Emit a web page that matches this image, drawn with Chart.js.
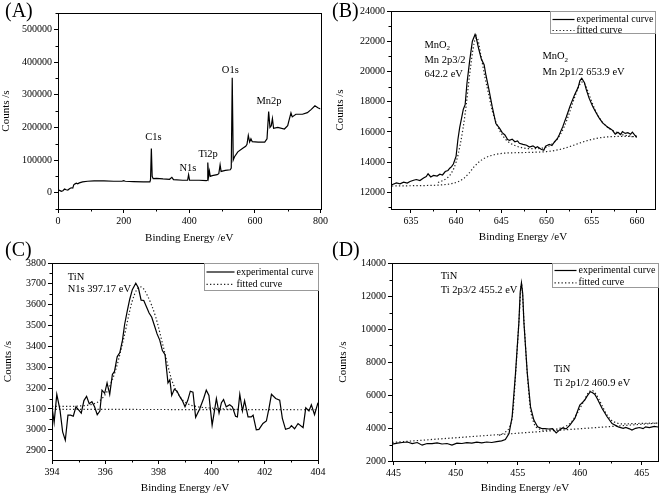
<!DOCTYPE html>
<html>
<head>
<meta charset="utf-8">
<script src="https://cdn.jsdelivr.net/npm/chart.js@4.4.1/dist/chart.umd.min.js"></script>
<style>
body { margin: 0; background: #fff; }
#wrap { position: relative; width: 661px; height: 497px; overflow: hidden; }
canvas { position: absolute; }
</style>
</head>
<body>
<div id="wrap">
  <canvas id="survey" width="330" height="250" style="left:0;top:0"></canvas>
  <canvas id="mn2p" width="331" height="250" style="left:330px;top:0"></canvas>
  <canvas id="n1s" width="330" height="267" style="left:0;top:230px"></canvas>
  <canvas id="ti2p" width="331" height="267" style="left:330px;top:230px"></canvas>
</div>
<script>
// (A) SURVEY SPECTRUM
let surveyEnergy = [0,5,10,15,20,25,30,35,40,45, 48,52,56,60,65,75,90,110,140,170,
    195,200,205,230,260,280,282,284.5,287,290, 300,320,340,347,352,380,395,398,401,430,
    452,455,456.5,459,461.5,464,470,485,490,494, 497,510,525,528,531,534,538,548,563,572,
    576,580,584,588,592,610,630,637,642,646, 650,653.5,657,670,690,700,705,710,714,725,
    745,760,772,783,792,800];
let surveyCounts = [8000,7000,4000,6000,11000,9000,8000,12000,15000,14000,
    24000,27000,29000,27000,30000,33000,35000,36000,36000,35000,
    35000,37000,35000,34000,33000,33000,40000,135000,50000,43000,
    44000,42000,41000,47000,40000,38000,38000,55000,38000,38000,
    37000,38000,92000,50000,66000,50000,52000,55000,58000,85000,
    65000,68000,70000,75000,352000,100000,110000,125000,136000,142000,
    148000,175000,155000,165000,156000,155000,155000,165000,248000,200000,
    205000,227000,197000,200000,195000,205000,225000,244000,232000,240000,
    240000,245000,255000,266000,260000,256000];
let surveyPeaks = ['C1s', 'N1s', 'Ti2p', 'O1s', 'Mn2p'];
let surveyPeakAt = [[291,170000], [396,75500], [457.5,118000], [525,375000], [643,279000]];

// (B) Mn 2p
let mnEnergy = [632.9,633.4,633.8,634.2,634.6,634.9,635.3,635.6,636.0,636.4,
    636.7,636.9,637.2,637.5,637.9,638.2,638.5,638.8,639.1,639.3,
    639.5,639.7,640.0,640.2,640.4,640.6,640.8,641.0,641.2,641.5,
    641.8,642.1,642.2,642.5,642.8,643.1,643.3,643.6,644.0,644.4,
    644.8,645.1,645.4,645.7,645.9,646.2,646.5,646.8,647.0,647.4,
    647.8,648.1,648.5,648.8,649.0,649.4,649.7,649.9,650.3,650.6,
    650.9,651.2,651.4,651.8,652.2,652.6,653.1,653.5,653.7,653.9,
    654.2,654.4,654.7,655.1,655.5,655.8,656.2,656.5,656.8,657.1,
    657.3,657.6,657.9,658.2,658.4,658.7,659.0,659.3,659.5,659.8,660.0];
let mnCounts = [12500,12620,12560,12680,12620,12720,12800,12850,12780,12950,
    13050,13230,13020,13120,13080,13200,13150,13380,13450,13600,
    13700,13880,14400,15500,16300,16900,17500,17800,19200,20700,
    22000,22450,22300,21500,20800,20450,19750,18900,17650,16550,
    16250,15950,15800,15500,15450,15520,15350,15400,15250,15180,
    15120,15000,15080,14950,15020,14850,14780,15050,15180,15100,
    15350,15550,15800,16350,17000,17700,18450,18950,19400,19550,
    19250,18800,18250,17700,17250,16950,16600,16450,16300,16200,
    16100,15850,15980,15830,16020,15900,15950,15850,15980,15760,15700];
let mnFitEnergy = [638.0,639.0,639.5,640.0,640.5,641.0,641.5,642.0,642.3,642.7,
    643.2,643.6,644.0,644.5,645.0,645.5,646.0,647.0,648.0,649.0,
    650.0,650.5,651.0,651.5,652.0,652.5,653.0,653.5,653.9,654.2,
    654.5,655.0,655.5,656.0,656.5,657.0,657.5,658.0,658.5,659.0,660.0];
let mnFitCounts = [12650,12950,13300,14000,15300,17200,19800,21900,22250,21200,
    19600,18500,17400,16500,15900,15500,15250,15000,14900,14900,
    15000,15150,15400,15800,16400,17200,18100,18900,19300,19200,
    18800,18000,17300,16800,16450,16200,16050,15900,15800,15750,15650];
let mnBgEnergy = [632.9,635,637,638.5,639.5,640.2,640.8,641.4,642.0,642.6,
    643.2,643.8,644.5,645.5,647,648.5,650,651,652,653,
    654,655,656,657,658,659,660];
let mnBgCounts = [12420,12440,12460,12500,12580,12700,12900,13250,13700,14050,
    14280,14420,14530,14600,14630,14650,14700,14780,14920,15120,
    15330,15500,15620,15680,15700,15700,15680];

// (C) N 1s
let nEnergy = [394.0,394.08,394.18,394.3,394.4,394.5,394.6,394.7,394.8,394.9,
    395.0,395.1,395.2,395.3,395.4,395.5,395.6,395.7,395.8,395.88,
    395.98,396.07,396.17,396.27,396.35,396.45,396.55,396.65,396.73,396.83,
    396.92,397.02,397.15,397.25,397.35,397.45,397.55,397.65,397.75,397.85,
    397.95,398.05,398.15,398.25,398.36,398.43,398.5,398.6,398.7,398.8,
    398.9,399.0,399.1,399.2,399.3,399.4,399.55,399.7,399.8,399.9,
    400.02,400.1,400.18,400.28,400.37,400.45,400.55,400.68,400.78,400.9,
    400.97,401.06,401.16,401.24,401.37,401.49,401.56,401.68,401.78,401.93,
    402.06,402.16,402.25,402.41,402.56,402.66,402.78,402.93,403.0,403.12,
    403.25,403.44,403.54,403.66,403.75,403.87,404.0];
let nCounts = [3110,3035,3170,3095,2990,2950,3070,3070,3065,3110,
    3095,3080,3140,3160,3125,3135,3110,3072,3090,3190,
    3175,3225,3170,3265,3280,3350,3370,3430,3505,3570,
    3625,3672,3703,3680,3622,3620,3590,3560,3540,3500,
    3460,3430,3380,3360,3225,3240,3165,3195,3185,3160,
    3140,3110,3140,3185,3180,3060,3100,3150,3190,3165,
    3022,3085,3150,3080,3130,3145,3110,3120,3110,3065,
    3062,3170,3090,3140,3062,3062,3070,3000,3002,3030,
    3042,3105,3170,3150,3142,3055,3002,3008,3020,3005,
    3030,3010,3105,3090,3120,3072,3130];
let nFitEnergy = [394,394.5,395,395.5,395.8,396.1,396.4,396.7,397.0,397.2,
    397.35,397.6,397.9,398.2,398.5,398.8,399.1,399.5,400,400.5,401];
let nFitCounts = [3112,3112,3114,3122,3140,3190,3290,3440,3610,3675,
    3685,3640,3540,3390,3240,3160,3125,3110,3104,3100,3098];
let nBgEnergy = [394, 404];
let nBgCounts = [3098, 3096];

// (D) Ti 2p
let tiEnergy = [444.9,445.3,445.7,446.1,446.5,446.9,447.3,447.7,448.1,448.5,
    448.9,449.3,449.7,450.1,450.5,450.9,451.3,451.7,452.1,452.5,
    452.9,453.3,453.7,454.0,454.3,454.55,454.82,455.09,455.2,455.3,455.4,455.5,
    455.77,456.03,456.3,456.6,456.9,457.2,457.5,457.8,458.1,458.4,
    458.6,458.9,459.2,459.6,460.0,460.4,460.6,460.85,461.0,461.2,
    461.4,461.8,462.2,462.6,463.1,463.5,463.7,464.0,464.2,464.5,
    464.8,465.1,465.3,465.6,466.0,466.3];
let tiCounts = [3020,3080,3120,3150,3060,3120,2960,3060,3050,3100,
    3030,3060,2960,3080,3060,3110,3080,3140,3100,3150,
    3120,3170,3220,3300,3670,4680,7320,10360,12250,12800,12150,10360,
    7320,5280,4480,4070,3980,3960,3940,3960,3700,3900,
    4000,3950,4170,4580,5390,5690,5950,6200,6150,6050,
    5790,5180,4680,4270,4070,3980,4030,3950,3870,3980,
    4030,3960,4070,4020,4100,4060];
let tiFitEnergy = [453.5,454.0,454.3,454.6,454.85,455.1,455.3,455.5,455.75,456.0,
    456.3,456.7,457.2,457.8,458.3,458.8,459.3,459.8,460.3,460.7,
    460.95,461.3,461.7,462.1,462.5,463.0,463.5,464.5,466.3];
let tiFitCounts = [3550,3750,4000,4900,7500,10500,12700,10500,7500,5300,
    4300,3950,3870,3900,3970,4080,4350,4900,5600,6150,
    6280,6050,5500,4900,4500,4300,4250,4270,4300];
let tiBgEnergy = [444.9, 466.3];
let tiBgCounts = [3130, 4300];

let serif = "'Liberation Serif', 'Times New Roman', serif";
let tickFont = { family: serif, size: 10 };
let titleFont = { family: serif, size: 11 };
let noteFont = '10.5px ' + serif;

function toPoints(xs, ys) {
    return xs.map(function (x, i) { return { x: x, y: ys[i] }; });
}

function expSet(xs, ys) {
    return { label: 'experimental curve', data: toPoints(xs, ys), borderColor: '#000',
        borderWidth: 1.2, pointRadius: 0, tension: 0, inLegend: true };
}

function fitSet(xs, ys, inLegend) {
    return { label: 'fitted curve', data: toPoints(xs, ys), borderColor: '#222',
        borderWidth: 1.2, borderDash: [1.3, 2.2], pointRadius: 0,
        cubicInterpolationMode: 'monotone', inLegend: inLegend };
}

function stepValues(min, max, step, odd) {
    let out = [];
    let start = Math.ceil(min / step - 1e-9);
    for (let k = start; k * step <= max + 1e-9; k++) {
        if (!odd || k % 2 !== 0) out.push(k * step);
    }
    return out;
}

// frame, minor ticks, legend box, labels and panel letter
let panelPlugin = {
    id: 'panel',
    afterDraw(chart, args, opts) {
        let ctx = chart.ctx;
        let a = chart.chartArea;
        let sx = chart.scales.x, sy = chart.scales.y;
        ctx.save();
        ctx.strokeStyle = '#000';
        ctx.lineWidth = 1;
        ctx.strokeRect(Math.round(a.left) + 0.5, Math.round(a.top) + 0.5,
            Math.round(a.right - a.left), Math.round(a.bottom - a.top));

        ctx.beginPath();
        stepValues(sx.min, sx.max, opts.xMinor, true).forEach(function (v) {
            let px = Math.round(sx.getPixelForValue(v)) + 0.5;
            ctx.moveTo(px, a.bottom); ctx.lineTo(px, a.bottom + 2.5);
        });
        stepValues(sy.min, sy.max, opts.yMinor, true).forEach(function (v) {
            let py = Math.round(sy.getPixelForValue(v)) + 0.5;
            ctx.moveTo(a.left, py); ctx.lineTo(a.left - 2.5, py);
        });
        ctx.stroke();

        if (opts.legend) {
            let L = opts.legend;
            let items = chart.data.datasets.filter(function (d) { return d.inLegend; });
            let x0 = Math.round(a.right - L.width) + 0.5, y0 = Math.round(a.top) + 0.5;
            ctx.fillStyle = '#fff';
            ctx.fillRect(x0, y0, L.width, L.height);
            ctx.strokeStyle = '#999';
            ctx.strokeRect(x0, y0, L.width, L.height);
            ctx.font = '10px ' + serif;
            ctx.textBaseline = 'middle';
            ctx.textAlign = 'left';
            items.forEach(function (d, i) {
                let y = y0 + L.first + L.row * i;
                ctx.strokeStyle = d.borderColor;
                ctx.lineWidth = d.borderWidth;
                ctx.setLineDash(d.borderDash || []);
                ctx.beginPath();
                ctx.moveTo(x0 + 2, y); ctx.lineTo(x0 + 2 + L.sample, y);
                ctx.stroke();
                ctx.setLineDash([]);
                ctx.fillStyle = '#000';
                ctx.fillText(d.label, x0 + 4 + L.sample, y);
            });
        }

        ctx.fillStyle = '#000';
        ctx.textBaseline = 'middle';
        (opts.notes || []).forEach(function (n) {
            let px = sx.getPixelForValue(n.x), py = sy.getPixelForValue(n.y);
            ctx.font = noteFont;
            ctx.textAlign = n.align || 'left';
            ctx.fillText(n.text, px, py);
            if (n.sub) {
                let w = ctx.measureText(n.text).width;
                ctx.font = '7px ' + serif;
                ctx.fillText(n.sub, px + w, py + 3);
            }
        });

        if (opts.letter) {
            let t = opts.letter;
            ctx.font = '20px ' + serif;
            ctx.textAlign = 'left';
            ctx.textBaseline = 'alphabetic';
            if (t.blank) {
                ctx.fillStyle = '#fff';
                ctx.fillRect(t.x - 2, t.y - 16, ctx.measureText(t.text).width + 2, 21);
                ctx.fillStyle = '#000';
            }
            ctx.fillText(t.text, t.x, t.y);
        }
        ctx.restore();
    }
};

function axisOptions(which, range, title, titlePad, size) {
    return {
        type: 'linear',
        min: range[0],
        max: range[1],
        ticks: {
            stepSize: range[2], autoSkip: false, maxRotation: 0,
            font: tickFont, color: '#000', padding: 2,
            callback: function (v) { return String(Math.round(v)); }
        },
        grid: { display: true, drawOnChartArea: false, drawTicks: true, tickLength: 4, color: '#000' },
        border: { display: false },
        title: {
            display: true, text: title, font: titleFont, color: '#000',
            padding: which === 'x' ? { top: 0, bottom: titlePad } : { top: titlePad, bottom: 0 }
        },
        // only whole steps get a labelled tick
        afterBuildTicks: function (s) {
            s.ticks = stepValues(range[0], range[1], range[2], false).map(function (v) { return { value: v }; });
        },
        afterFit: function (s) {
            if (which === 'x') s.height = size; else s.width = size;
        }
    };
}

function xpsChart(id, datasets, box, panel) {
    return new Chart(document.getElementById(id), {
        type: 'line',
        data: { datasets: datasets },
        options: {
            responsive: false,
            animation: false,
            devicePixelRatio: 1,
            layout: { padding: { left: 0, right: box.right, top: box.top, bottom: 0 } },
            plugins: { legend: { display: false }, tooltip: { enabled: false }, panel: panel },
            scales: {
                x: axisOptions('x', box.x, 'Binding Energy /eV', box.xTitlePad, box.xHeight),
                y: axisOptions('y', box.y, 'Counts /s', box.yTitlePad, box.yWidth)
            }
        },
        plugins: [panelPlugin]
    });
}

function pageLoaded() {
    xpsChart('survey', [expSet(surveyEnergy, surveyCounts)],
        { x: [0, 800, 200], y: [-50000, 550000, 100000], right: 5, top: 13,
          yWidth: 58, xHeight: 41, yTitlePad: 0, xTitlePad: 5 },
        { xMinor: 100, yMinor: 50000, letter: { text: '(A)', x: 5, y: 17 },
          notes: surveyPeaks.map(function (p, i) {
              return { text: p, x: surveyPeakAt[i][0], y: surveyPeakAt[i][1], align: 'center' };
          }) });

    xpsChart('mn2p', [expSet(mnEnergy, mnCounts), fitSet(mnFitEnergy, mnFitCounts, true),
            fitSet(mnBgEnergy, mnBgCounts, false)],
        { x: [632.8, 662, 5], y: [10900, 24000, 2000], right: 6, top: 11,
          yWidth: 61, xHeight: 41, yTitlePad: 4, xTitlePad: 6 },
        { xMinor: 2.5, yMinor: 1000, letter: { text: '(B)', x: 2, y: 17, blank: true },
          legend: { width: 105, height: 22, sample: 22, first: 8, row: 11 },
          notes: [
              { text: 'MnO', sub: '2', x: 636.5, y: 21750 },
              { text: 'Mn 2p3/2', x: 636.5, y: 20758 },
              { text: '642.2 eV', x: 636.5, y: 19832 },
              { text: 'MnO', sub: '2', x: 649.55, y: 20976 },
              { text: 'Mn 2p1/2 653.9 eV', x: 649.55, y: 19918 }
          ] });

    xpsChart('n1s', [expSet(nEnergy, nCounts), fitSet(nFitEnergy, nFitCounts, true),
            fitSet(nBgEnergy, nBgCounts, false)],
        { x: [394, 404, 2], y: [2855, 3800, 100], right: 12, top: 33,
          yWidth: 52, xHeight: 37, yTitlePad: 2, xTitlePad: 2 },
        { xMinor: 1, yMinor: 50, letter: { text: '(C)', x: 5, y: 26 },
          legend: { width: 114, height: 27, sample: 28, first: 8.5, row: 12.3 },
          notes: [
              { text: 'TiN', x: 394.59, y: 3734 },
              { text: 'N1s 397.17 eV', x: 394.59, y: 3672 }
          ] });

    xpsChart('ti2p', [expSet(tiEnergy, tiCounts), fitSet(tiFitEnergy, tiFitCounts, true),
            fitSet(tiBgEnergy, tiBgCounts, false)],
        { x: [444.87, 466.3, 5], y: [2000, 14000, 2000], right: 3, top: 33,
          yWidth: 62, xHeight: 36, yTitlePad: 7, xTitlePad: 2 },
        { xMinor: 2.5, yMinor: 1000, letter: { text: '(D)', x: 2, y: 26 },
          legend: { width: 106, height: 24, sample: 22, first: 7, row: 12.3 },
          notes: [
              { text: 'TiN', x: 448.8, y: 13170 },
              { text: 'Ti 2p3/2 455.2 eV', x: 448.8, y: 12320 },
              { text: 'TiN', x: 457.9, y: 7575 },
              { text: 'Ti 2p1/2 460.9 eV', x: 457.9, y: 6724 }
          ] });
}

window.addEventListener('load', pageLoaded);
</script>
</body>
</html>
